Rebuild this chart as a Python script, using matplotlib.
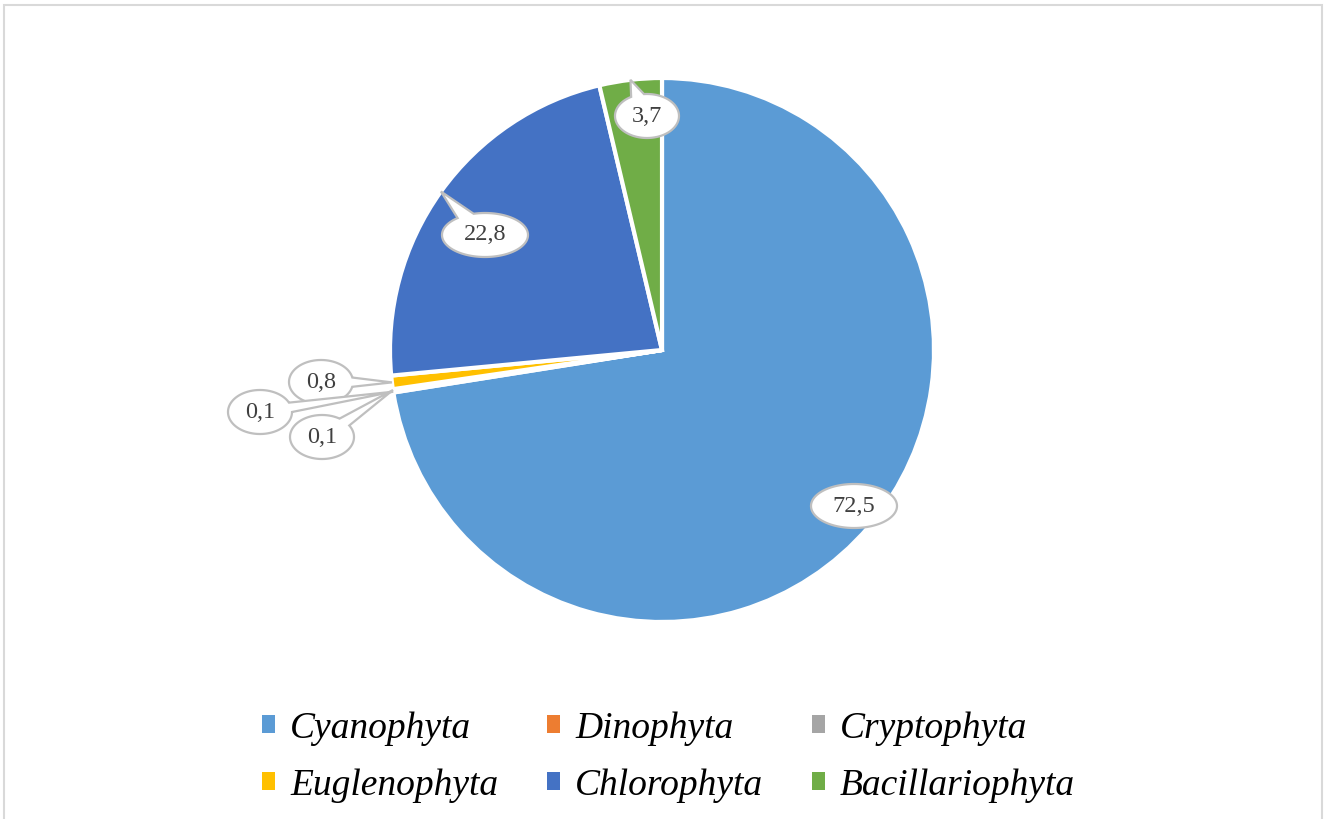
import numpy as np
import matplotlib.pyplot as plt
from matplotlib.patches import Patch, Polygon, Rectangle

# data
names = ['Cyanophyta', 'Dinophyta', 'Cryptophyta', 'Euglenophyta', 'Chlorophyta', 'Bacillariophyta']
shares = [72.5, 0.1, 0.1, 0.8, 22.8, 3.7]
labels = ['72,5', '0,1', '0,1', '0,8', '22,8', '3,7']
colors = ['#5B9BD5', '#ED7D31', '#A5A5A5', '#FFC000', '#4472C4', '#70AD47']

# where each callout sits (pixels, relative to pie centre; y up)
label_pos = [(192, -156), (-402, -62), (-340, -87), (-341, -32), (-177, 115), (-15, 234)]
pointer = [False, True, True, True, True, True]

W, H = 1329, 819
cx, cy, R = 662, 350, 272

plt.rcParams['font.family'] = ['Liberation Serif', 'DejaVu Serif']

fig = plt.figure(figsize=(W / 100, H / 100), dpi=100)
ax = fig.add_axes([0, 0, 1, 1])

wedges, _ = ax.pie(shares, colors=colors, startangle=90, counterclock=False, radius=1,
                   wedgeprops=dict(edgecolor='white', linewidth=3))
ax.set_xlim(-cx / R, (W - cx) / R)
ax.set_ylim(-(H - cy) / R, cy / R)
ax.set_aspect('equal')
ax.axis('off')

# callouts
for k, (w, lab, (lx, ly), has_ptr) in enumerate(zip(wedges, labels, label_pos, pointer)):
    ex, ey = lx / R, ly / R
    a = (11 * len(lab) - 1) / R
    b = 22 / R
    t = np.linspace(0, 2 * np.pi, 400, endpoint=False)
    px = ex + a * np.cos(t)
    py = ey + b * np.sin(t)
    pts = list(zip(px, py))
    if has_ptr:
        mid = np.deg2rad((w.theta1 + w.theta2) / 2)
        tx, ty = np.cos(mid), np.sin(mid)
        ang = np.arctan2((ty - ey) / b, (tx - ex) / a) % (2 * np.pi)
        d = np.deg2rad(12)
        off = np.abs(((t - ang + np.pi) % (2 * np.pi)) - np.pi)
        idx = [i for i in range(len(t)) if off[i] > d]
        gap = next((j for j in range(1, len(idx)) if idx[j] - idx[j - 1] > 1), 0)
        keep = [pts[i] for i in idx]
        pts = keep[:gap] + [(tx, ty)] + keep[gap:]
    z = {1: 7, 2: 5, 3: 6}.get(k, 5)
    ax.add_patch(Polygon(pts, closed=True, facecolor='white', edgecolor='#BFBFBF',
                         linewidth=1.6, zorder=z, clip_on=False))
    ax.text(ex, ey, lab, ha='center', va='center', fontsize=17.5, color='#404040', zorder=z + 0.5)

# chart border
fig.patches.append(Rectangle((4 / W, -0.01), (1322 - 4) / W, (H - 5) / H + 0.01,
                             transform=fig.transFigure, fill=False,
                             edgecolor='#D9D9D9', linewidth=1.5))

# legend filled row by row
order = [0, 3, 1, 4, 2, 5]
handles = [Patch(facecolor=colors[i], edgecolor='none') for i in order]
fig.legend(handles, [names[i] for i in order], loc='center', bbox_to_anchor=(0.503, 0.076), ncol=3,
           frameon=False, prop=dict(family='Liberation Serif', style='italic', size=27),
           handlelength=0.35, handleheight=0.35, handletextpad=0.4,
           columnspacing=1.3, labelspacing=0.6)

fig.savefig('out.png', dpi=100)
